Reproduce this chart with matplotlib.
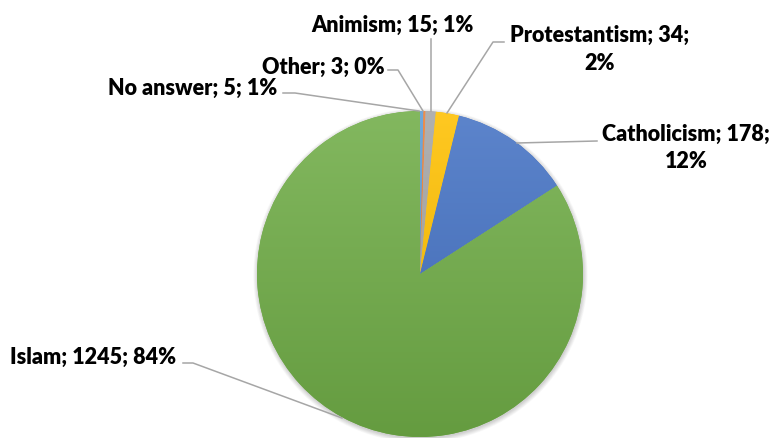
import matplotlib.pyplot as plt
import matplotlib.colors as mcolors
import numpy as np

# religion counts, clockwise from 12 o'clock
categories = ["No answer", "Other", "Animism", "Protestantism", "Catholicism", "Islam"]
counts = [5, 3, 15, 34, 178, 1245]
percents = [1, 0, 1, 2, 12, 84]
colors = ["#5B9BD5", "#ED7D31", "#A5A5A5", "#FFC000", "#4472C4", "#70AD47"]

W, H = 773, 438
fig = plt.figure(figsize=(W / 100, H / 100), dpi=100)
ax = fig.add_axes([0, 0, 1, 1])

cx, cy, r = 420, H - 274, 163

# soft shadow under the pie
for k in range(8):
    sh = plt.Circle((cx + 0.5, cy - 1.5), r + k * 0.6, color="black", alpha=0.025, lw=0, zorder=0)
    ax.add_patch(sh)

wedges, _ = ax.pie(counts, colors=colors, startangle=90, counterclock=False,
                   center=(cx, cy), radius=r,
                   wedgeprops=dict(linewidth=0))

# vertical shading: lighter on top, darker at the bottom
grad = np.linspace(0, 1, 256)[:, None]
for w, c in zip(wedges, colors):
    base = np.array(mcolors.to_rgb(c))
    top = base + (1 - base) * 0.13
    bot = base * 0.9
    img = top[None, None, :] * (1 - grad[:, :, None]) + bot[None, None, :] * grad[:, :, None]
    im = ax.imshow(img, extent=(cx - r, cx + r, cy - r, cy + r), origin="upper",
                   aspect="auto", zorder=2, interpolation="bilinear")
    im.set_clip_path(w)

ax.set_xlim(0, W)
ax.set_ylim(0, H)
ax.axis("off")

labels = [f"{c}; {n}; {p}%" for c, n, p in zip(categories, counts, percents)]
font = dict(family=["Lato", "DejaVu Sans"], fontweight="heavy", fontsize=15.5, color="black")

def Y(y):
    return H - y

##label text positions and leader lines (pixel coords, top-down)
ax.text(277, Y(88), labels[0], ha="right", va="center", **font)
ax.plot([283, 295, 419], [Y(93), Y(93), Y(111)], color="#A6A6A6", lw=1.1, zorder=3)

ax.text(385, Y(67), labels[1], ha="right", va="center", **font)
ax.plot([388, 398, 423], [Y(70), Y(70), Y(111)], color="#A6A6A6", lw=1.1, zorder=3)

ax.text(392, Y(25), labels[2], ha="center", va="center", **font)
ax.plot([431, 431], [Y(39), Y(111)], color="#A6A6A6", lw=1.1, zorder=3)

ax.text(600, Y(35), "Protestantism; 34;", ha="center", va="center", **font)
ax.text(600, Y(64), "2%", ha="center", va="center", **font)
ax.plot([504, 493, 447], [Y(42), Y(42), Y(113)], color="#A6A6A6", lw=1.1, zorder=3)

ax.text(686, Y(134), "Catholicism; 178;", ha="center", va="center", **font)
ax.text(686, Y(162), "12%", ha="center", va="center", **font)
ax.plot([597, 517], [Y(141), Y(143)], color="#A6A6A6", lw=1.1, zorder=3)

ax.text(10, Y(357), labels[5], ha="left", va="center", **font)
ax.plot([183, 193, 342], [Y(363), Y(363), Y(418)], color="#A6A6A6", lw=1.1, zorder=3)

fig.savefig("out.png", dpi=100)
